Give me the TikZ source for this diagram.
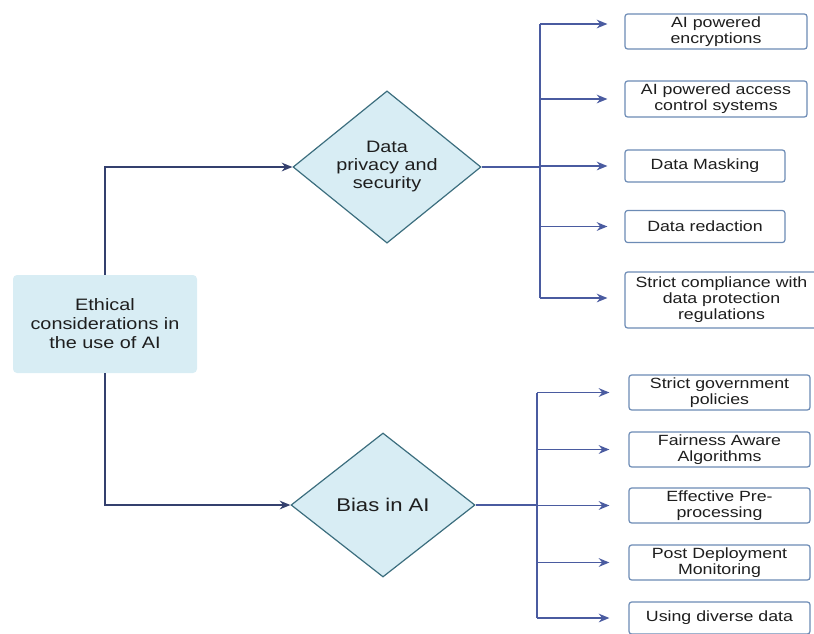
\documentclass[tikz,border=0pt]{standalone}
\usepackage{fontspec}
\setmainfont{Liberation Sans}[FakeStretch=1.2]
\usetikzlibrary{shapes.geometric,arrows.meta}
\definecolor{arrowc}{HTML}{4A5BA0}
\definecolor{darkc}{HTML}{34406E}
\definecolor{boxb}{HTML}{6C8BB5}
\definecolor{fillc}{HTML}{D8EDF4}
\definecolor{diab}{HTML}{3C6E7E}
\definecolor{textc}{HTML}{1E1E1E}
\begin{document}
\begin{tikzpicture}[x=0.75pt,y=-0.75pt,
  rootbox/.style={rectangle, rounded corners=3pt, fill=fillc, draw=none,
    minimum width=184*0.75pt, minimum height=98*0.75pt, align=center,
    text=textc, font=\fontsize{12.4}{14.25}\selectfont},
  dia/.style={diamond, fill=fillc, draw=diab, line width=0.9pt, inner sep=0pt,
    align=center, text=textc, font=\fontsize{12.4}{13.5}\selectfont},
  leaf/.style={rectangle, rounded corners=2pt, draw=boxb, line width=0.9pt,
    fill=white, align=center, inner sep=0pt, text=textc,
    font=\fontsize{11.1}{12}\selectfont},
  link/.style={draw=arrowc, line width=1.2pt},
  arr/.style={link, -{Stealth[length=8pt,width=6.5pt]}},
  darr/.style={draw=darkc, line width=1.2pt, -{Stealth[length=8pt,width=6.5pt]}},
]
\useasboundingbox (0,0) rectangle (814,633);
\clip (0,0) rectangle (814,633);

% root
\node[rootbox] (root) at (105,324) {Ethical\\considerations in\\the use of AI};

% diamonds
\node[dia, minimum width=188*0.75pt, minimum height=147*0.75pt] (d1) at (387,167)
  {Data\\privacy and\\security};
\node[dia, minimum width=184*0.75pt, minimum height=144*0.75pt,
  font=\fontsize{13.8}{15}\selectfont] (d2) at (383,505) {Bias in AI};

% top leaves
\node[leaf, minimum width=182*0.75pt, minimum height=35*0.75pt] (t1) at (716,31.5) {AI powered\\encryptions};
\node[leaf, minimum width=182*0.75pt, minimum height=36*0.75pt] (t2) at (716,99) {AI powered access\\control systems};
\node[leaf, minimum width=160*0.75pt, minimum height=32*0.75pt] (t3) at (705,166) {Data Masking};
\node[leaf, minimum width=160*0.75pt, minimum height=32*0.75pt] (t4) at (705,226.5) {Data redaction};
\node[leaf, minimum width=193*0.75pt, minimum height=56*0.75pt] (t5) at (721.5,300) {Strict compliance with\\data protection\\regulations};

% bottom leaves
\node[leaf, minimum width=181*0.75pt, minimum height=35*0.75pt] (b1) at (719.5,392.5) {Strict government\\policies};
\node[leaf, minimum width=181*0.75pt, minimum height=35*0.75pt] (b2) at (719.5,449.5) {Fairness Aware\\Algorithms};
\node[leaf, minimum width=181*0.75pt, minimum height=35*0.75pt] (b3) at (719.5,505.5) {Effective Pre-\\processing};
\node[leaf, minimum width=181*0.75pt, minimum height=35*0.75pt] (b4) at (719.5,562.5) {Post Deployment\\Monitoring};
\node[leaf, minimum width=181*0.75pt, minimum height=32*0.75pt] (b5) at (719.5,618) {Using diverse data};

% root to diamonds
\draw[darr] (root.north) |- (d1.west);
\draw[darr] (root.south) |- (d2.west);

% top bracket
\coordinate (u1) at (540,24);
\coordinate (u5) at (540,298);
\draw[link] (d1.east) -- (d1.east -| u1);
\draw[link] (u1) -- (u5);
\draw[arr, shorten >=17*0.75pt] (u1) -- (u1 -| t1.west);
\draw[arr, shorten >=17*0.75pt] (u1 |- t2.west) -- (t2.west);
\draw[arr, shorten >=17*0.75pt] (u1 |- t3.west) -- (t3.west);
\draw[arr, shorten >=17*0.75pt] (u1 |- t4.west) -- (t4.west);
\draw[arr, shorten >=17*0.75pt] (u5) -- (u5 -| t5.west);

% bottom bracket
\coordinate (w1) at (537,392.5);
\coordinate (w5) at (537,618);
\draw[link] (d2.east) -- (d2.east -| w1);
\draw[link] (w1) -- (w5);
\draw[arr, shorten >=19*0.75pt] (w1) -- (b1.west);
\draw[arr, shorten >=19*0.75pt] (w1 |- b2.west) -- (b2.west);
\draw[arr, shorten >=19*0.75pt] (w1 |- b3.west) -- (b3.west);
\draw[arr, shorten >=19*0.75pt] (w1 |- b4.west) -- (b4.west);
\draw[arr, shorten >=19*0.75pt] (w5) -- (b5.west);
\end{tikzpicture}
\end{document}
